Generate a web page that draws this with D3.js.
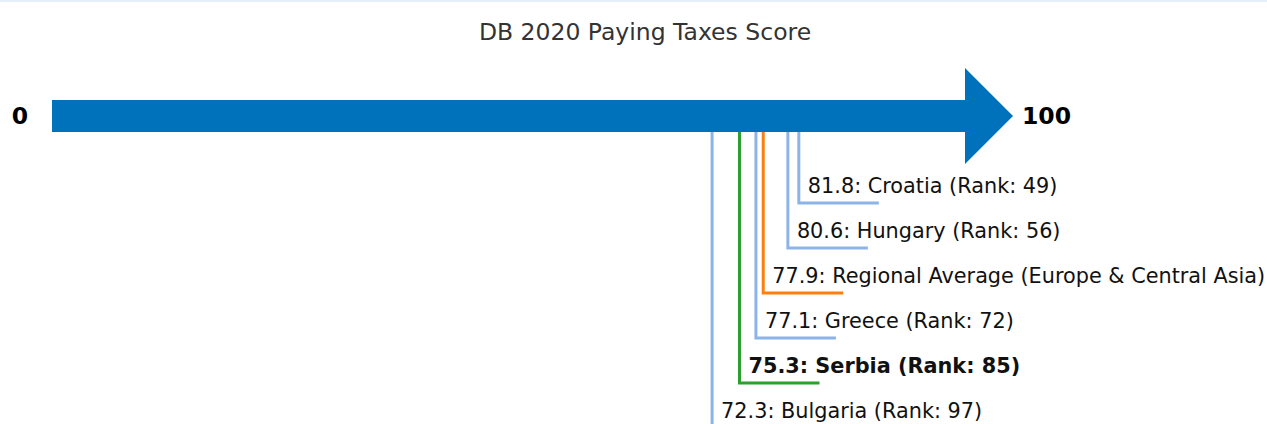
<!DOCTYPE html>
<html>
<head>
<meta charset="utf-8">
<script src="https://cdn.jsdelivr.net/npm/d3@7"></script>
<style>
  body { margin: 0; background: #fff; }
  svg { display: block; font-family: "DejaVu Sans", sans-serif; }
</style>
</head>
<body>
<div id="chart"></div>
<script>
// economies, sorted by score (highest first)
var economies = ["Croatia", "Hungary", "Regional Average (Europe & Central Asia)", "Greece", "Serbia", "Bulgaria"];
var scores = [81.8, 80.6, 77.9, 77.1, 75.3, 72.3];
var ranks = [49, 56, null, 72, 85, 97];
var kinds = ["peer", "peer", "region", "peer", "focus", "peer"];
var scoreRange = [0, 100];
var title = "DB 2020 Paying Taxes Score";

var width = 1267, height = 424;

var svg = d3.select("#chart")
  .append("svg")
  .attr("width", width)
  .attr("height", height);

// thin top border
svg.append("rect")
  .attr("x", 0).attr("y", 0)
  .attr("width", width).attr("height", 2)
  .style("fill", "#e3eef9");

svg.append("text")
  .attr("x", 645)
  .attr("y", 40)
  .attr("text-anchor", "middle")
  .style("font-size", "23.5px")
  .style("fill", "#333")
  .text(title);

var x = d3.scaleLinear().domain(scoreRange).range([52, 965]);
var y = d3.scalePoint().domain(economies).range([203, 428]);

var color = d3.scaleOrdinal()
  .domain(["peer", "region", "focus"])
  .range(["#8cb4e8", "#ff7f0e", "#2ca02c"]);

// the arrow
var shaftTop = 100, shaftBottom = 132, headTop = 68, headBottom = 164, mid = 116;
var x0 = x(scoreRange[0]), x1 = x(scoreRange[1]);
svg.append("path")
  .attr("d", d3.line()([
    [x0, shaftTop], [x1, shaftTop], [x1, headTop], [x1 + 48, mid],
    [x1, headBottom], [x1, shaftBottom], [x0, shaftBottom]
  ]) + "Z")
  .style("fill", "#0072bc");

svg.append("text")
  .attr("x", 20).attr("y", mid + 8)
  .attr("text-anchor", "middle")
  .style("font-size", "23.5px").style("font-weight", "bold")
  .text(scoreRange[0]);

svg.append("text")
  .attr("x", x1 + 57).attr("y", mid + 8)
  .style("font-size", "23.5px").style("font-weight", "bold")
  .text(scoreRange[1]);

var rows = economies.map(function(e, i) {
  return { name: e, score: scores[i], rank: ranks[i], kind: kinds[i] };
});

// leader lines
svg.selectAll("myLeader")
  .data(rows)
  .enter()
  .append("path")
    .attr("d", function(d) {
      return d3.line()([[x(d.score), shaftBottom], [x(d.score), y(d.name)], [x(d.score) + 80, y(d.name)]]);
    })
    .style("fill", "none")
    .style("stroke", function(d) { return color(d.kind); })
    .style("stroke-width", 3);

svg.selectAll("myLabel")
  .data(rows)
  .enter()
  .append("text")
    .attr("x", function(d) { return x(d.score) + 9; })
    .attr("y", function(d) { return y(d.name) - 10; })
    .style("font-size", "20.8px")
    .style("font-weight", function(d) { return d.kind == "focus" ? "bold" : "normal"; })
    .style("fill", "#111")
    .text(function(d) {
      return d.score.toFixed(1) + ": " + d.name + (d.rank == null ? "" : " (Rank: " + d.rank + ")");
    });
</script>
</body>
</html>
